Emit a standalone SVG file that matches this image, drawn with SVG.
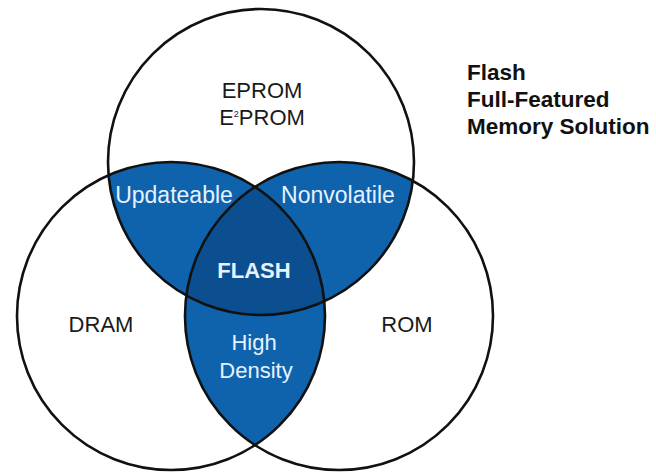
<svg xmlns="http://www.w3.org/2000/svg" width="656" height="472" viewBox="0 0 656 472">
  <style>
    .ring { fill: none; stroke: #111; stroke-width: 2.6; }
    .pair { fill: #0f63ad; }
    .core { fill: #0b4f91; }
    .dark { font-family: "Liberation Sans", Arial, sans-serif; font-size: 22px; fill: #1a1a1a; text-anchor: middle; }
    .light { font-family: "Liberation Sans", Arial, sans-serif; font-size: 22px; fill: #e6f2ff; text-anchor: middle; }
    .big { font-size: 23px; }
    .bold { font-weight: bold; }
    .title { font-family: "Liberation Sans", Arial, sans-serif; font-size: 22.5px; font-weight: bold; fill: #111; }
  </style>
  <defs>
    <clipPath id="clipT"><circle cx="261" cy="162" r="153"/></clipPath>
    <clipPath id="clipL"><circle cx="171" cy="316" r="154"/></clipPath>
    <clipPath id="clipR"><circle cx="339" cy="316" r="154"/></clipPath>
  </defs>
  <rect width="656" height="472" fill="#ffffff"/>
  <g id="regions">
    <g clip-path="url(#clipT)"><circle class="pair" cx="171" cy="316" r="154"/></g>
    <g clip-path="url(#clipT)"><circle class="pair" cx="339" cy="316" r="154"/></g>
    <g clip-path="url(#clipL)"><circle class="pair" cx="339" cy="316" r="154"/></g>
    <g clip-path="url(#clipL)"><g clip-path="url(#clipR)"><circle class="core" cx="261" cy="162" r="153"/></g></g>
  </g>
  <g id="eprom">
    <circle class="ring" cx="261" cy="162" r="153"/>
    <text class="dark" x="262" y="98">EPROM</text>
    <text class="dark" x="262" y="125">E<tspan font-size="9" dy="-8">2</tspan><tspan dy="8">PROM</tspan></text>
  </g>
  <g id="dram">
    <circle class="ring" cx="171" cy="316" r="154"/>
    <text class="dark" x="101" y="332">DRAM</text>
  </g>
  <g id="rom">
    <circle class="ring" cx="339" cy="316" r="154"/>
    <text class="dark" x="407" y="332">ROM</text>
  </g>
  <g id="updateable"><text class="light big" x="174" y="203">Updateable</text></g>
  <g id="nonvolatile"><text class="light big" x="338" y="203">Nonvolatile</text></g>
  <g id="flash"><text class="light bold" x="254" y="278">FLASH</text></g>
  <g id="highdensity">
    <text class="light" x="254" y="350">High</text>
    <text class="light" x="256" y="378">Density</text>
  </g>
  <g id="caption">
    <text class="title" x="467" y="80">Flash</text>
    <text class="title" x="467" y="107">Full-Featured</text>
    <text class="title" x="467" y="134">Memory Solution</text>
  </g>
</svg>
